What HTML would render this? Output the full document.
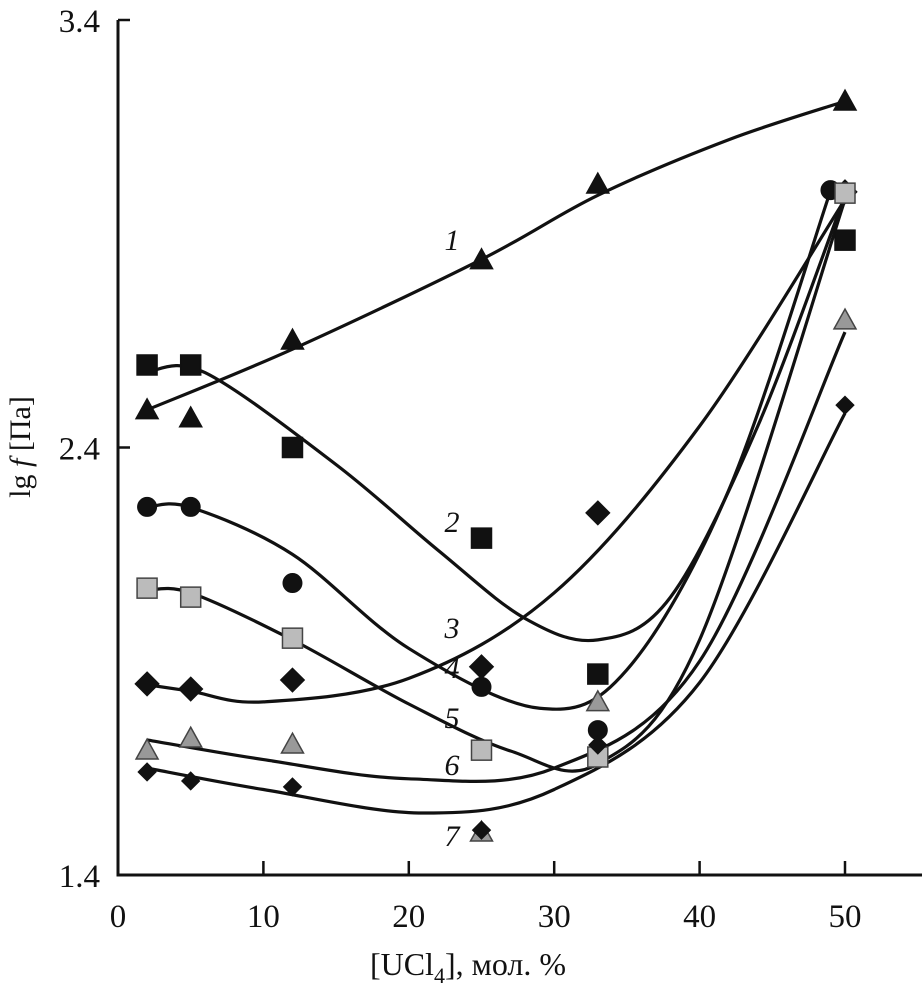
<!DOCTYPE html>
<html><head><meta charset="utf-8"><style>
html,body{margin:0;padding:0;background:#fff;}
svg text{font-family:"Liberation Serif",serif;fill:#111;}
</style></head><body>
<svg id="chart" width="922" height="990" viewBox="0 0 922 990">
<g id="axes"></g>
<g id="curves"></g>
<g id="marks"></g>
<g id="labels"></g>
<text x="30" y="447" font-size="30" text-anchor="middle" transform="rotate(-90 30 447)">lg <tspan font-style="italic">f</tspan> [Па]</text>
<text x="468" y="975" font-size="32" text-anchor="middle">[UCl<tspan font-size="22" dy="8">4</tspan><tspan dy="-8">], мол. %</tspan></text>
</svg>
<script>
const xTicks=[0,10,20,30,40,50];
const yTicks=[1.4,2.4,3.4];
const xs=[2,5,12,25,33,50];
const s1=[2.488,2.469,2.651,2.839,3.016,3.21];
const s2=[2.593,2.593,2.40,2.188,1.870,2.885];
const s3=[2.261,2.261,2.083,1.840,1.739,3.002];
const s3x=[2,5,12,25,33,49];
const s4=[1.847,1.835,1.856,1.887,2.247,2.998];
const s5=[2.071,2.05,1.954,1.692,1.676,2.995];
const s6=[1.692,1.72,1.706,1.50,1.805,2.698];
const s7=[1.641,1.62,1.606,1.505,1.704,2.499];
// fitted curves
const c1x=[2,12,25,33,42,50], c1=[2.488,2.63,2.84,2.99,3.12,3.21];
const c2x=[2,6,15,22,28,33,38,44,50], c2=[2.577,2.575,2.36,2.16,2.0,1.95,2.05,2.45,2.99];
const c3x=[2,5,12,20,29,35,42,49], c3=[2.26,2.26,2.15,1.93,1.79,1.88,2.3,3.0];
const c4x=[2,5,10,20,30,40,50], c4=[1.845,1.83,1.805,1.86,2.06,2.45,2.98];
const c5x=[2,5,12,20,27,33,40,50], c5=[2.066,2.06,1.95,1.80,1.69,1.66,1.95,2.98];
const c6x=[2,10,20,30,40,50], c6=[1.716,1.67,1.625,1.65,1.9,2.67];
const c7x=[2,10,21,30,40,50], c7=[1.65,1.60,1.545,1.6,1.85,2.48];
const curveLabels=["1","2","3","4","5","6","7"];
const NS="http://www.w3.org/2000/svg";
const X=v=>118+(v-0)*14.54;
const Y=v=>875-(v-1.4)*427.5;
function mk(tag,attrs,parent){const e=document.createElementNS(NS,tag);for(const k in attrs)e.setAttribute(k,attrs[k]);parent.appendChild(e);return e;}
const ax=document.getElementById('axes');
let e=mk('path',{d:`M118,${Y(3.4)} V875 H922`,fill:'none',stroke:'#111','stroke-width':3},ax);


xTicks.forEach(t=>{
 if(t>0){let tk=mk('line',{x1:X(t),x2:X(t),y1:875,y2:861,stroke:'#111','stroke-width':2.5},ax);
 
 }
 let l=mk('text',{x:X(t),y:927,'font-size':33,'text-anchor':'middle'},ax);l.textContent=t;
 
 
});
yTicks.forEach(t=>{
 let tk=mk('line',{x1:118,x2:130,y1:Y(t),y2:Y(t),stroke:'#111','stroke-width':2.5},ax);
 
 
 let l=mk('text',{x:100,y:Y(t)+12,'font-size':33,'text-anchor':'end'},ax);l.textContent=t.toFixed(1);
 
 
});
function spline(px,py){
 const P=px.map((x,i)=>[X(x),Y(py[i])]);
 let d=`M${P[0][0]},${P[0][1]}`;
 for(let i=0;i<P.length-1;i++){
  const p0=P[i-1]||P[i],p1=P[i],p2=P[i+1],p3=P[i+2]||P[i+1];
  const c1=[p1[0]+(p2[0]-p0[0])/6,p1[1]+(p2[1]-p0[1])/6];
  const c2=[p2[0]-(p3[0]-p1[0])/6,p2[1]-(p3[1]-p1[1])/6];
  d+=` C${c1[0]},${c1[1]} ${c2[0]},${c2[1]} ${p2[0]},${p2[1]}`;
 }
 return d;
}
const cg=document.getElementById('curves');
[[c1x,c1],[c2x,c2],[c3x,c3],[c4x,c4],[c5x,c5],[c6x,c6],[c7x,c7]].forEach((c,i)=>{
 let p=mk('path',{d:spline(c[0],c[1]),fill:'none',stroke:'#111','stroke-width':3.2},cg);
 
 
});
const mg=document.getElementById('marks');
function marker(type,x,y,fill,stroke){
 let el;
 if(type==='tri'){const s=11;el=mk('polygon',{points:`${x},${y-s} ${x-s},${y+s*0.8} ${x+s},${y+s*0.8}`,fill,stroke,'stroke-width':1.5},mg);}
 else if(type==='sq'){el=mk('rect',{x:x-10,y:y-10,width:20,height:20,fill,stroke,'stroke-width':1.5},mg);}
 else if(type==='circ'){el=mk('circle',{cx:x,cy:y,r:9.5,fill,stroke,'stroke-width':1},mg);}
 else if(type==='dia'){const s=12;el=mk('polygon',{points:`${x},${y-s} ${x+s},${y} ${x},${y+s} ${x-s},${y}`,fill,stroke,'stroke-width':1},mg);}
 else {const s=9;el=mk('polygon',{points:`${x},${y-s} ${x+s},${y} ${x},${y+s} ${x-s},${y}`,fill,stroke,'stroke-width':1},mg);}
 return el;
}
const series=[[xs,s1,'tri','#111','#111'],[xs,s2,'sq','#111','#111'],[s3x,s3,'circ','#111','#111'],[xs,s4,'dia','#111','#111'],[xs,s5,'sq','#bbb','#444'],[xs,s6,'tri','#999','#444'],[xs,s7,'sdia','#111','#111']];
series.forEach((s,si)=>{
 s[0].forEach((xv,i)=>{
  let m=marker(s[2],X(xv),Y(s[1][i]),s[3],s[4]);
  
  
 });
});
const lg=document.getElementById('labels');
const labelY=[240,522,628,668,718,765,836];
curveLabels.forEach((t,i)=>{
 let l=mk('text',{x:452,y:labelY[i]+10,'font-size':30,'font-style':'italic','text-anchor':'middle'},lg);
 l.textContent=t;
 
 
});
</script>
</body></html>
